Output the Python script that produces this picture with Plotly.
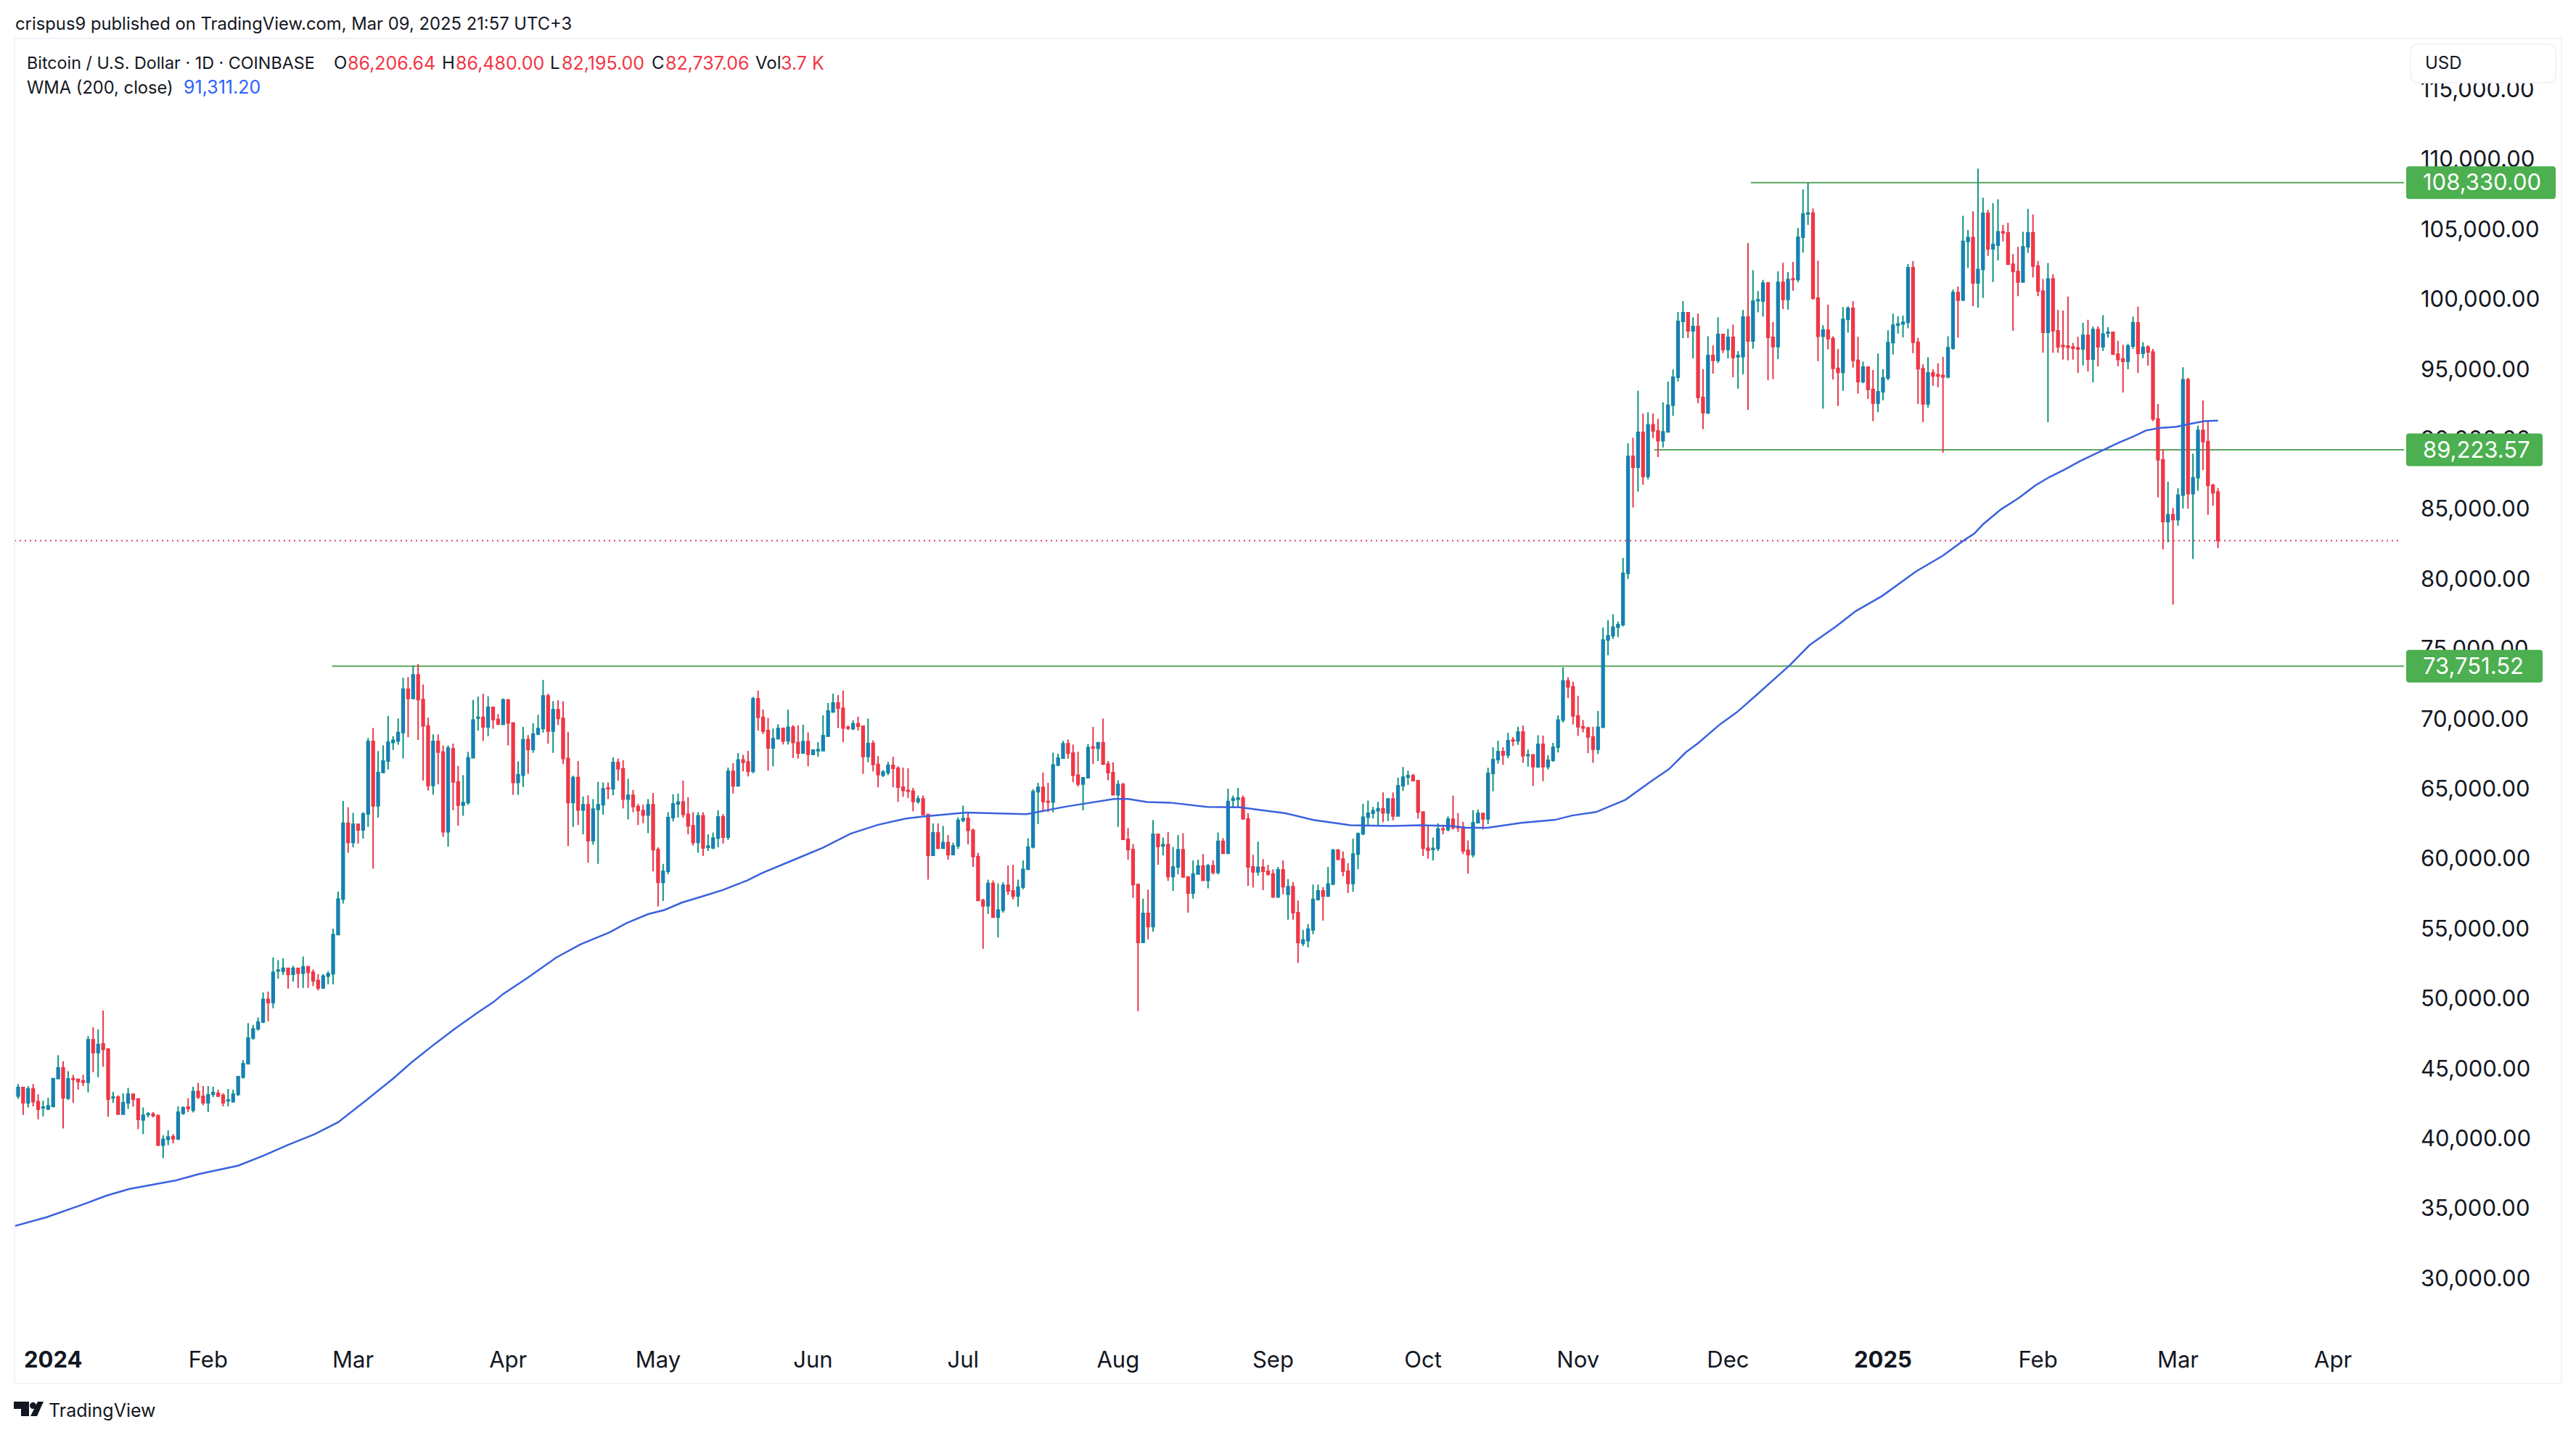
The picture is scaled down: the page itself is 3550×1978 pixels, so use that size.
import pandas as pd
import plotly.graph_objects as go

W, H = 3550, 1978
FIRST_DAY = "2023-12-25"

open_ = [
43030,43640,42530,43530,42630,42180,42100,42290,44270,45040,
42870,44270,44220,44110,44010,47050,46130,46760,46390,42900,
42950,41730,42530,43160,42820,41310,41710,41730,41630,39510,
39930,40120,39960,41790,42240,42020,43350,43000,42550,43160,
43220,43080,42690,42630,43140,44380,45330,47180,47820,48320,
49940,49700,51970,51950,52160,51730,52160,51810,52260,51870,
51290,50760,51600,51760,54570,57110,62530,61150,62450,62050,
63190,68380,63770,66160,66980,68300,68410,69010,72110,71450,
73140,71370,69490,65230,68380,67610,61920,67850,65490,63830,
64010,67210,70050,70100,69410,70810,69940,69600,71340,69700,
65440,65970,68510,67800,68910,69300,71630,69120,70650,70020,
67160,64010,65790,63480,63850,61290,63510,63850,65040,64990,
66870,66420,64250,64520,63720,63430,63110,63850,60630,58300,
59090,62930,63900,64040,63170,62350,61150,63060,60810,60760,
61470,62980,
61530,66240,65200,67060,66910,66240,71430,70100,69150,67910,68570,69300,68420,69390,68300,67550,68370,67460,67710,67710,
68750,70480,71120,70750,69390,69280,69640,69460,67300,68240,66730,65970,66150,66660,66460,65110,64870,64820,
64090,64270,63150,60230,61840,60740,61140,60290,60910,62730,62870,62020,60140,57010,56630,58230,55810,56320,58100,57690,
57320,57960,59230,60830,64780,65090,64090,64050,66690,67190,68210,67550,65970,65330,65780,67970,67880,68280,66750,66150,
64570,65290,61380,60650,58140,54010,56080,55140,61740,60910,61000,58720,59410,60630,58690,57540,58900,59470,58450,59490,
59010,61230,60380,64180,64240,64330,62840,59410,59050,59380,59090,58900,57270,59200,57450,57990,56140,53950,54140,54900,
57080,57690,57320,58180,60600,59960,59110,58230,60320,61780,62960,63240,63420,63560,63270,64270,63050,65200,65820,65930,
65570,63330,60740,60650,60720,62110,62070,
62820,62290,62250,60590,60280,62570,63210,62840,66090,67080,67650,67410,68480,68410,69050,67370,67420,66580,68170,66580,
67030,67960,69910,72710,72280,70210,69430,69340,68700,67820,69390,75620,75930,76550,76730,
80400,88760,87980,90470,87320,91020,90570,89870,90510,92420,94410,98410,99030,97730,98040,92980,91870,95970,95620,97470,
96400,97270,95880,95880,98720,97010,99890,99860,101140,97270,96610,101190,99980,101450,101400,104420,106100,106150,100070,97340,
97780,97180,95050,94760,98550,99340,95620,94100,95140,93550,92560,93380,94360,96890,98130,98230,98340,102250,96920,95020,
92510,94720,94590,94550,94440,96490,100470,99930,104130,104400,101160,102120,106130,103590,103850,104810,104730,102490,101970,101220,
103740,104730,102360,100570,97630,101440,97730,96680,96640,96570,96510,96440,97410,95710,97820,96590,97560,97630,96060,95730,
95560,96640,98310,96120,96570,96210,91430,88520,84090,84590,84240,85980,94230,86090,87230,90610,89810,86690,86206.64,
]

high = [
43880,43670,43740,43880,43160,42690,42900,44280,45940,45520,
44800,44540,44270,44540,47320,47950,47790,49140,46440,43320,
43080,43220,43610,43220,42820,42210,41890,41890,41710,40220,
40570,40300,42290,42290,42870,43690,43960,43740,43740,43690,
43480,43220,43530,43480,44460,45600,48240,48110,48640,50440,
50490,52930,52740,52870,52210,52340,52210,53000,52340,52080,
51740,51740,51950,54990,57640,64120,63670,63270,62480,63320,
68620,69330,67690,68090,70200,68750,70020,72930,72980,73780,
73910,72450,70070,68880,68880,68090,68090,68220,66630,65970,
67640,71340,71580,71790,71610,70870,70340,71450,71340,69700,
66950,69410,68830,69680,70280,72770,71790,71260,71320,71260,
69070,65920,66980,64440,64520,64250,65490,65440,65440,67240,
67160,67030,65710,64910,63910,63850,64250,64700,60810,59620,
63320,64600,64650,65570,64380,63320,63320,63320,61740,61870,63460,63190,
66510,66820,67550,67420,67700,71570,72010,70660,
70060,69300,69610,69370,70640,69550,69520,69570,69020,67820,
68330,70240,71120,71790,71700,72010,69520,69880,70150,69520,
70010,68460,67330,66330,66930,67280,66600,66510,66460,65060,
64510,64510,63150,62510,62510,62330,61690,61140,62960,63780,
63330,62140,60420,57140,58500,58450,58230,58320,59510,59560,
58500,59870,61450,64970,65420,66150,65420,67570,67510,68420,
68510,68150,67640,65820,68190,69420,68330,70010,66970,66880,
65600,65420,62180,61050,58230,57140,57780,62750,61780,61510,
61910,60830,61690,61820,58720,59870,59920,60320,59630,59870,
61870,61470,65000,64510,65060,64510,63240,60270,61200,59960,
59560,59230,59410,59870,58540,58320,57010,54900,55320,58140,
58140,57960,59410,60690,60690,60510,59670,61420,61870,63910,
64150,63690,64060,64730,64270,64730,65780,66550,66280,66060,
65600,63350,62330,61510,62510,62420,63020,
64500,63260,62630,61300,63460,63500,63290,66490,67960,68430,67960,69000,68690,
69430,69520,67790,67440,68820,68790,67390,68270,70240,73670,
72970,72660,71640,69910,69430,69430,70550,76520,77040,77470,76950,81500,
89690,90090,93460,91820,91910,91820,91440,92630,94100,94970,
99080,99860,99030,98700,98960,94980,97350,96700,98700,97530,
97870,98180,96280,99220,104010,102070,100590,101380,101240,98360,
101990,102590,101930,102660,105080,107850,108330,106480,102750,98130,
99600,97350,96440,99430,99480,99860,97300,95540,95190,94930,
96110,94980,97770,98960,98770,98820,102500,102710,97230,95330,
95840,94980,95410,95880,97350,100680,100900,105950,104940,106280,
109330,107250,106380,106860,107140,105310,105460,103220,103740,104810,
106450,106060,102730,101440,102580,101760,99220,99180,100190,96870,
97300,98310,98530,98030,98060,98850,97990,97670,97020,96740,
96810,98740,99460,96920,96700,96440,92500,89280,86950,85080,
86480,95130,94380,88950,90950,92760,91320,86800,86480,
]

low = [
42820,41680,42210,42290,41360,41570,42020,42210,44270,40700,
42740,42530,43480,43740,43290,44720,44380,45120,41550,42530,
41730,41730,42100,42260,40650,40300,41500,41500,39460,38580,
39510,39640,39880,41680,41890,41840,42820,42370,41890,42950,
42950,42290,42290,42550,43030,44270,45280,47050,47710,48240,
48370,49300,51420,51680,50700,51210,50760,50760,50760,50890,
50570,50680,51020,51020,54540,56790,60410,60810,61080,61420,
62270,59280,62930,66100,66370,67770,68140,67160,68670,71400,
68480,65570,64860,64570,65310,61550,60860,63460,62350,63060,
63850,67160,69150,68410,68750,69280,69540,69540,68090,64570,
64570,65120,66050,67560,68830,69010,68220,67560,69540,66760,
60890,62270,62400,61740,59700,61000,59620,63140,64250,64520,
65570,63590,62800,63320,62400,62530,61820,59090,56580,56970,
58880,62660,62930,62930,61740,60940,60410,60200,60550,60680,60810,61080,
61330,64660,65180,66240,65880,66110,69150,68910,
66290,66600,68510,68150,68150,67200,67150,67510,66600,67390,
67280,67700,68700,70430,69330,68330,69190,69190,69150,66060,
66880,66240,65090,65840,65970,65110,64060,64420,64330,63380,
63930,63110,58500,60200,60690,60690,59920,60230,60690,62600,
61020,59410,56960,53550,56050,55770,54360,56140,57410,57080,
56560,57810,59180,60720,62470,63330,63330,63310,66600,67150,
67150,65460,65150,63450,65750,66750,66970,66690,65600,64510,
62270,61330,59920,57180,49100,53990,54230,54770,59560,60230,
58410,57690,58870,58650,56140,57140,58870,58410,57870,58870,
58870,60320,60360,63690,63660,62840,58050,57920,58780,57740,
58780,57190,57190,57450,55630,55630,52550,53740,53650,54590,
57010,55560,57320,58100,59870,58740,57540,57630,59230,61670,
62420,62870,62380,62600,62690,62730,63050,64840,65270,65510,
62870,60180,60000,59870,60540,61740,61960,
62080,61910,60320,58930,60090,62510,62080,62460,64810,66800,66700,67180,68050,
68130,66840,66580,65190,66470,65540,66370,66920,67580,69740,
71470,69600,68770,69030,67530,66840,67480,69340,74530,75700,75830,76600,
80000,85100,86250,86720,87120,90060,88710,89400,90440,91650,
94120,97210,97210,95760,92560,90700,91780,94670,95420,96140,
95760,94410,93600,94620,92080,96450,99050,98740,94210,94280,
95710,99290,99250,100600,101210,103320,105310,99950,95570,92170,
96400,94240,92370,93440,97610,95100,93250,93980,92860,91270,
91910,92770,94190,96040,97530,97270,97910,96140,92510,91210,
92250,93800,93690,89020,94330,96380,97240,99930,102230,99500,
99390,100080,103090,101220,102770,104130,102450,97730,100210,101180,
103310,101540,100210,96160,91210,96160,96160,95670,95620,95670,
94720,95260,94830,94050,95190,96290,97240,96060,95190,93320,
94980,96440,94720,95780,95240,91280,85830,82110,82610,78150,
83790,85020,85020,81420,86310,87770,84580,85230,82195,
]

close = [
43640,42530,43530,42630,42080,42240,42320,44270,45040,42900,
44250,44220,44060,44010,47050,46130,46710,46360,42790,42950,
41730,42550,43160,42790,41360,41650,41760,41630,39510,39930,
40090,39960,41870,42180,42130,43350,42950,42550,43110,43270,
43030,42550,42740,43160,44410,45330,47180,47820,48320,49940,
49700,51870,52030,52160,51710,52160,51810,52260,51870,51260,
50760,51600,51760,54570,57110,62530,61150,62450,62050,63190,
68380,63770,66160,66980,68330,68460,69010,72110,71450,73140,
71370,69490,65230,68380,67610,61920,67900,65490,63830,64010,
67210,69910,70100,69410,70810,69940,69620,71340,69700,65440,
66000,68510,67800,68910,69300,71630,69120,70650,70020,67160,
64010,65790,63480,63850,61290,63540,63850,64990,64990,66870,
66420,64250,64520,63720,63430,63110,63850,60630,58300,59090,
62930,63910,64040,63170,62350,61150,63060,60760,60890,61470,62980,61530,
66240,65200,67060,66880,66240,71430,70100,69120,
67910,68570,69300,68420,69390,68300,67550,68370,67460,67750,
67790,68790,70550,71120,70750,69330,69320,69640,69460,67300,
68240,66730,66000,66180,66660,66460,65110,64870,64820,64090,
64270,63150,60230,61840,60740,61140,60290,60910,62730,62870,
62020,60140,57010,56630,58230,55810,56320,58100,57690,57320,
57960,59230,60830,64780,65090,64090,64050,66690,67190,68210,
67550,65970,65330,65780,67930,67910,68280,66750,66150,64570,
65290,61380,60650,58140,54010,56080,55140,61740,60870,61000,
58720,59410,60630,58690,57540,58900,59470,58450,59490,59010,
61230,60380,64090,64290,64330,62840,59410,59050,59380,59090,
58900,57270,59200,57990,57990,56140,53990,54190,54960,57080,
57690,57320,58180,60600,59960,59110,58230,60320,61780,62960,
63240,63420,63560,63270,64270,63050,65200,65820,65930,65570,
63330,60740,60600,60720,62110,62070,62820,
62220,62220,60560,60280,62570,63240,62840,66090,67080,67650,67410,68430,68410,
69050,67350,67420,66580,68170,66580,67030,67960,69910,72710,
72280,70210,69430,69340,68700,67820,69390,75620,75930,76550,76730,80400,
88760,87980,90470,87320,91020,90570,89870,90510,92420,94410,
98410,99030,97730,98040,92980,91870,95970,95620,97470,96400,
97270,95830,95970,98720,97010,99860,99950,101140,97270,96610,
101190,99980,101400,101400,104420,106080,106150,100070,97340,97780,
97180,95050,94760,98550,99340,95620,94100,95140,93550,92560,
93380,94360,96890,98130,98230,98340,102250,96920,95020,92510,
94720,94510,94510,94440,96530,100470,99930,104130,104400,101160,
102120,106130,103590,103910,104810,104730,102490,101970,101220,103740,
104730,102360,100570,97630,101440,97730,96590,96610,96550,96490,
96440,97410,95710,97820,96590,97500,97630,96060,95690,95560,
96640,98310,96120,96550,96210,91430,88520,84090,84590,84240,
85980,94230,86090,87230,90610,89810,86690,86160,82737.06,
]

# 200-day weighted moving average, read at days counted from the first candle
wma_days = [-1,5.6,13,17.7,22.3,26.9,31.6,36.2,44,49.1,53.8,59.3,64,69.5,75,78.8,83.45,87.3,91.7,95.1,97,
            101.8,103.8,107.6,112.5,118.3,121.7,126,129.2,132.8,137.6,141,145.9,148.8,156,161,166.5,172,177.6,182.2,189.6,197,
            201.7,209.1,213.7,219.3,222,225.8,230.4,237.8,244.3,253.5,259.1,266.5,274.8,280.4,286.6,289.5,
            293.9,300.6,307.4,310.8,315.6,321.5,326.3,330.2,333.6,336,340.4,343.8,347.9,350.5,354.4,358.3,
            363.6,367.5,372.8,379.6,
            381.8,384.9,389,391.3,393,396.6,400.2,403.5,406.3,409.3,412.4,417,420,423.1,425.6,428.2,431.7,
            434.8,437.3,440]
wma_values = [33700,34350,35280,35910,36390,36700,37000,37450,38050,38770,39510,40300,41150,42690,44270,
              45460,46780,47820,48940,49750,50320,51450,51970,52920,53870,54730,55390,56030,56320,56860,57380,
              57760,58450,58970,60040,60780,61780,62420,62870,63050,63290,63200,63180,63690,63960,64270,64270,
              64050,64000,63690,63670,63240,62760,62380,62330,62380,62340,62200,62200,62550,62770,63080,63330,
              64210,65450,66400,67610,68250,69600,70470,71760,72590,73840,75260,76600,77680,78770,80530,
              80990,81640,82710,83250,83900,84970,85790,86690,87280,87810,88420,89210,89710,90180,90610,90780,
              90870,91110,91280,91311.2]

y_ticks = [30000,35000,40000,45000,50000,55000,60000,65000,70000,75000,80000,85000,90000,95000,100000,105000,110000,115000]
month_ticks = ["2024-01-01","2024-02-01","2024-03-01","2024-04-01","2024-05-01","2024-06-01","2024-07-01","2024-08-01",
               "2024-09-01","2024-10-01","2024-11-01","2024-12-01","2025-01-01","2025-02-01","2025-03-01","2025-04-01"]
month_labels = ["<b>2024</b>","Feb","Mar","Apr","May","Jun","Jul","Aug","Sep","Oct","Nov","Dec","<b>2025</b>","Feb","Mar","Apr"]

level_values = [108330.00, 89223.57, 73751.52]
level_labels = ["108,330.00", "89,223.57", "73,751.52"]
level_starts = ["2024-12-05 14:00", "2024-11-16 06:00", "2024-02-25 19:00"]
level_box_right = [3522, 3504, 3504]

last_close = close[-1]
legend_line = [("O", "#131722", 459), ("86,206.64", "#F23645", 478), ("H", "#131722", 608), ("86,480.00", "#F23645", 627),
               ("L", "#131722", 757), ("82,195.00", "#F23645", 773), ("C", "#131722", 897), ("82,737.06", "#F23645", 916),
               ("Vol", "#131722", 1040), ("3.7 K", "#F23645", 1075)]

if not (len(open_) == len(high) == len(low) == len(close) == 441):
    raise SystemExit(f"lengths {len(open_)} {len(high)} {len(low)} {len(close)}")
if len(wma_days) != len(wma_values):
    raise SystemExit(f"wma lengths {len(wma_days)} {len(wma_values)}")

FONT = "Inter"
INK = "#131722"
GREEN = "#4CAF50"
UP_BODY = "#1A7DBD"
DOWN_BODY = "#F23645"
base = pd.Timestamp(FIRST_DAY)
dates = pd.date_range(base, periods=len(open_), freq="D")
wma_x = [base + pd.to_timedelta(d, unit="D") for d in wma_days]
body_top = [max(o, c) for o, c in zip(open_, close)]
body_bottom = [min(o, c) for o, c in zip(open_, close)]

PX_L, PX_R, PX_T, PX_B = 20, 3313, 53, 1843
px = lambda v: v / W
py = lambda v: 1 - v / H

def rounded(x0, y0, x1, y1, r):
    a, b, c, d = px(x0), py(y0), px(x1), py(y1)
    rx, ry = r / W, r / H
    return (f"M {a+rx} {b} L {c-rx} {b} Q {c} {b} {c} {b-ry} L {c} {d+ry} Q {c} {d} {c-rx} {d} "
            f"L {a+rx} {d} Q {a} {d} {a} {d+ry} L {a} {b-ry} Q {a} {b} {a+rx} {b} Z")

fig = go.Figure()
# wicks and thin outline
fig.add_trace(go.Candlestick(
    x=dates, open=open_, high=high, low=low, close=close,
    increasing=dict(line=dict(color="#0E9481", width=2), fillcolor=UP_BODY),
    decreasing=dict(line=dict(color="#E63A4E", width=2), fillcolor=DOWN_BODY),
    whiskerwidth=0, showlegend=False, hoverinfo="skip"))
# solid bodies on top of the outlines
fig.add_trace(go.Candlestick(
    x=dates, open=open_, high=body_top, low=body_bottom, close=close,
    increasing=dict(line=dict(color=UP_BODY, width=1), fillcolor=UP_BODY),
    decreasing=dict(line=dict(color=DOWN_BODY, width=1), fillcolor=DOWN_BODY),
    whiskerwidth=0, showlegend=False, hoverinfo="skip"))
fig.add_trace(go.Scatter(x=wma_x, y=wma_values, mode="lines", showlegend=False, hoverinfo="skip",
                         line=dict(color="#3A62DD", width=2.5)))

shapes = []
shapes.append(dict(type="line", xref="paper", yref="y", x0=px(PX_L), x1=px(3310), y0=last_close, y1=last_close,
                   layer="below", line=dict(color="#E0405C", width=2, dash="2px,5px")))
for val, start in zip(level_values, level_starts):
    shapes.append(dict(type="line", xref="x", yref="y", x0=start, x1=dates[-1] + pd.Timedelta(days=40),
                       y0=val, y1=val, layer="below", line=dict(color="#5BA65E", width=2)))
shapes.append(dict(type="rect", xref="paper", yref="paper", x0=px(20), x1=px(3530), y0=py(1907), y1=py(53),
                   line=dict(color="#F0F3FA", width=2), layer="above"))
shapes.append(dict(type="path", xref="paper", yref="paper", path=rounded(3322, 61, 3522, 114, 10),
                   fillcolor="white", line=dict(color="#F0F3FA", width=2), layer="above"))
annotations = []
def text(x, y, s, size=26, color=INK, anchor="left"):
    annotations.append(dict(xref="paper", yref="paper", x=px(x), y=py(y), text=s, showarrow=False,
                            xanchor=anchor, yanchor="middle", borderpad=0,
                            font=dict(family=FONT, size=size, color=color)))

for val, lab, right in zip(level_values, level_labels, level_box_right):
    yc = 219.5 + (110000 - val) * 0.01928
    shapes.append(dict(type="path", xref="paper", yref="paper", path=rounded(3316, yc - 22.5, right, yc + 22.5, 4),
                       fillcolor=GREEN, line=dict(width=0), layer="above"))
    text(3338, yc - 1, lab, size=31, color="white")

text(20, 33, "crispus9 published on TradingView.com, Mar 09, 2025 21:57 UTC+3", size=23.8)
text(36, 87, "Bitcoin / U.S. Dollar · 1D · COINBASE", size=23.3)
for s, c, x in legend_line:
    text(x, 87, s, size=25 if c != INK else 24, color=c)
text(36, 120, "WMA (200, close)", size=23.7)
text(252, 120, "91,311.20", size=25, color="#2962FF")
text(3341, 87, "USD", size=24)
text(66, 1944, "TradingView", size=25)

# TradingView mark
shapes.append(dict(type="path", xref="paper", yref="paper", line=dict(width=0), fillcolor=INK,
    path=(f"M {px(19)} {py(1932)} L {px(40)} {py(1932)} L {px(40)} {py(1952)} L {px(29)} {py(1952)} "
          f"L {px(29)} {py(1942)} L {px(19)} {py(1942)} Z "
          f"M {px(52)} {py(1932)} L {px(60)} {py(1932)} L {px(51)} {py(1952)} L {px(42)} {py(1952)} Z")))
shapes.append(dict(type="circle", xref="paper", yref="paper", line=dict(width=0), fillcolor=INK,
                   x0=px(41), x1=px(50), y0=py(1942), y1=py(1933)))

span_left = base + pd.to_timedelta((PX_L - 25) / 6.89, unit="D")
span_right = base + pd.to_timedelta((PX_R - 25) / 6.89, unit="D")
y_top = 110000 + (219.5 - PX_T) / 0.01928
y_bot = 110000 - (PX_B - 219.5) / 0.01928

fig.update_layout(
    width=W, height=H, margin=dict(l=0, r=0, t=0, b=0), autosize=False,
    paper_bgcolor="white", plot_bgcolor="white", showlegend=False, boxgap=0.33, boxmode="overlay",
    font=dict(family=FONT, color=INK), shapes=shapes, annotations=annotations,
    xaxis=dict(type="date", domain=[px(PX_L), px(PX_R)], range=[span_left, span_right],
               rangeslider=dict(visible=False), showgrid=False, zeroline=False, showline=False, ticks="",
               tickmode="array", tickvals=month_ticks, ticktext=month_labels,
               tickfont=dict(family=FONT, size=31, color=INK), ticklabelstandoff=10, automargin=False),
    yaxis=dict(domain=[py(PX_B), py(PX_T)], range=[y_bot, y_top], side="right", showgrid=False, zeroline=False,
               showline=False, ticks="", tickmode="array", tickvals=y_ticks,
               ticktext=[f"{v:,.2f}" for v in y_ticks],
               tickfont=dict(family=FONT, size=31, color=INK), ticklabelstandoff=22, automargin=False),
)

fig.write_html("out.html", post_script="document.body.style.margin='0';document.body.style.overflow='hidden';",
               config=dict(displayModeBar=False))
